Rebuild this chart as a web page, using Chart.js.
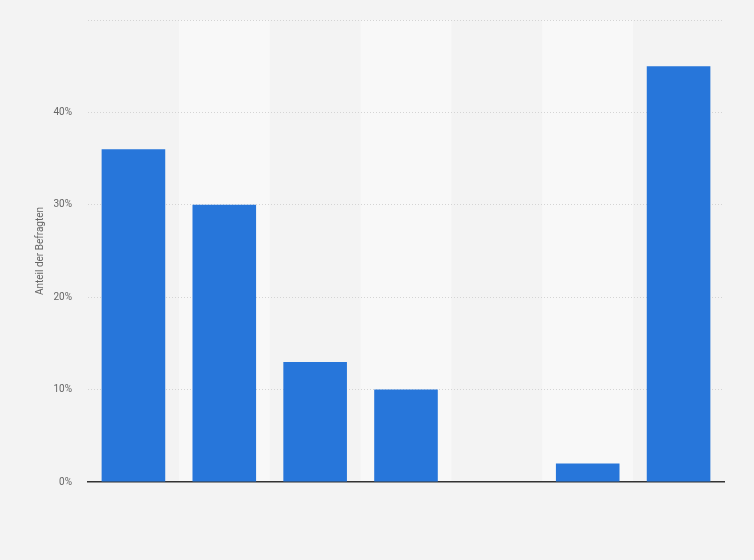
<!DOCTYPE html>
<head>
    <title>Anteil der Befragten</title>
    <meta charset="utf-8">
    <script src="https://cdn.jsdelivr.net/npm/chart.js"></script>
    <style>
        html, body { margin: 0; padding: 0; background: #f3f3f3; }
        #wrap { width: 754px; height: 560px; }
    </style>
</head>
<body>
    <div id="wrap">
        <canvas id="myChart" width="754" height="560"></canvas>
    </div>
    <script>
        // Kategorien ohne sichtbare Beschriftung
        const categories = ['', '', '', '', '', '', ''];
        const values = [36, 30, 13, 10, 0, 2, 45];
        const yTicks = [0, 10, 20, 30, 40, 50];
        const yLabels = ['0%', '10%', '20%', '30%', '40%', ''];

        // helle Streifen hinter jeder zweiten Kategorie (vor Gitter und Achsen)
        const bands = {
            id: 'bands',
            beforeDraw(chart) {
                const x = chart.scales.x, area = chart.chartArea, ctx = chart.ctx;
                const w = x.width / categories.length;
                ctx.save();
                ctx.fillStyle = '#f8f8f8';
                for (let i = 1; i < categories.length; i += 2) {
                    const cx = x.getPixelForValue(i);
                    ctx.fillRect(cx - w / 2, area.top, w, area.bottom - area.top);
                }
                ctx.restore();
            }
        };

        const ctx = document.getElementById('myChart');
        new Chart(ctx, {
            type: 'bar',
            data: {
                labels: categories,
                datasets: [{
                    data: values,
                    backgroundColor: '#2776da',
                    borderWidth: 0,
                    categoryPercentage: 0.7,
                    barPercentage: 1
                }]
            },
            options: {
                responsive: false,
                animation: false,
                layout: { padding: { left: 34, right: 30, top: 0, bottom: 78 } },
                plugins: { legend: { display: false }, tooltip: { enabled: false } },
                scales: {
                    x: {
                        grid: { display: false, drawTicks: false },
                        ticks: { display: false },
                        border: { color: '#333', width: 1.5 }
                    },
                    y: {
                        min: 0, max: 50,
                        afterBuildTicks(scale) { scale.ticks = yTicks.map(v => ({ value: v })); },
                        afterFit(scale) { scale.width = 54; scale.paddingTop = 20; },
                        grid: {
                            drawTicks: false,
                            color: c => c.tick.value === 0 ? 'rgba(0,0,0,0)' : '#d4d4d4',
                            lineWidth: 1
                        },
                        border: { display: false, dash: [1, 2] },
                        ticks: {
                            padding: 16,
                            color: '#666',
                            font: { family: 'Roboto', size: 10 },
                            callback: (v, i) => yLabels[yTicks.indexOf(v)]
                        },
                        title: {
                            display: true,
                            text: 'Anteil der Befragten',
                            color: '#666',
                            font: { family: 'Roboto', size: 10 },
                            padding: 0
                        }
                    }
                }
            },
            plugins: [bands]
        });
    </script>
</body>
</html>
